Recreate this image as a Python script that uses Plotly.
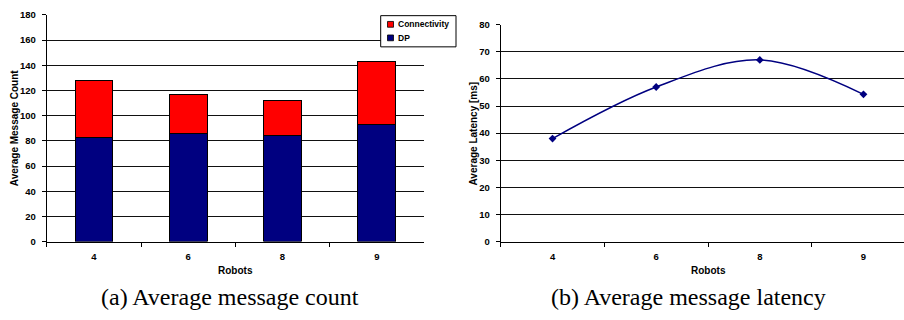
import plotly.graph_objects as go

# Data
robots = ["4", "6", "8", "9"]
dp_msgs = [83, 86, 84, 93]
connectivity_msgs = [45, 31, 28, 50]
latency_ms = [38, 57, 67, 54.3]

count_ticks = [0, 20, 40, 60, 80, 100, 120, 140, 160, 180]
latency_ticks = [0, 10, 20, 30, 40, 50, 60, 70, 80]

W, H = 904, 320
SANS = "Liberation Sans, Arial, sans-serif"
SERIF = "Liberation Serif, Times New Roman, serif"
NAVY = "#000080"
RED = "#FF0000"


def px_x(v):
    return v / W


def px_y(v):
    return 1 - v / H


fig = go.Figure()

# (a) stacked bars
fig.add_trace(go.Bar(x=robots, y=dp_msgs, name="DP", marker=dict(color=NAVY, line=dict(color="black", width=1)),
                     xaxis="x", yaxis="y", showlegend=False))
fig.add_trace(go.Bar(x=robots, y=connectivity_msgs, name="Connectivity",
                     marker=dict(color=RED, line=dict(color="black", width=1)),
                     xaxis="x", yaxis="y", showlegend=False))

# (b) smoothed latency line
fig.add_trace(go.Scatter(x=robots, y=latency_ms, mode="lines+markers",
                         line=dict(color=NAVY, width=1.5, shape="spline", smoothing=1),
                         marker=dict(symbol="diamond", size=6, color=NAVY),
                         xaxis="x2", yaxis="y2", showlegend=False))

tick_font = dict(family=SANS, size=9.5, color="black", weight="bold")
title_font = dict(family=SANS, size=10, color="black", weight="bold")

common_x = dict(type="category", showline=True, linecolor="black", linewidth=1,
                ticks="outside", tickson="boundaries", ticklen=4, tickcolor="black",
                showgrid=False, tickfont=tick_font, ticklabelstandoff=6, fixedrange=True)
common_y = dict(showline=True, linecolor="black", linewidth=1, ticks="outside", ticklen=4,
                tickcolor="black", showgrid=True, gridcolor="#111111", gridwidth=1,
                zeroline=False, tickfont=tick_font, ticklabelstandoff=4, fixedrange=True)

fig.update_layout(
    width=W, height=H,
    margin=dict(l=0, r=0, t=0, b=0),
    paper_bgcolor="white", plot_bgcolor="white",
    barmode="stack", bargap=0.6,
    xaxis=dict(common_x, domain=[px_x(46.7), px_x(424)], anchor="y", range=[-0.5, 3.5]),
    yaxis=dict(common_y, domain=[px_y(244), px_y(9.3)], anchor="x", range=[0, 180],
               tickvals=count_ticks),
    xaxis2=dict(common_x, domain=[px_x(500.7), 1.0], anchor="y2", range=[-0.5, 3.391]),
    yaxis2=dict(common_y, domain=[px_y(244), px_y(19.3)], anchor="x2", range=[0, 80],
                tickvals=latency_ticks),
)

annotations = [
    # axis titles
    dict(text="Average Message Count", x=px_x(14), y=px_y(126.5), textangle=-90, font=title_font),
    dict(text="Robots", x=px_x(235), y=px_y(274), font=title_font),
    dict(text="Average Latency [ms]", x=px_x(473.5), y=px_y(131.5), textangle=-90, font=title_font),
    dict(text="Robots", x=px_x(708), y=px_y(274), font=title_font),
    # captions
    dict(text="(a) Average message count", x=px_x(230), y=px_y(301),
         font=dict(family=SERIF, size=24, color="black")),
    dict(text="(b) Average message latency", x=px_x(688), y=px_y(301),
         font=dict(family=SERIF, size=24, color="black")),
    # legend labels
    dict(text="Connectivity", x=px_x(396), y=px_y(19), xanchor="left",
         font=dict(family=SANS, size=8.5, color="black", weight="bold")),
    dict(text="DP", x=px_x(396), y=px_y(33), xanchor="left",
         font=dict(family=SANS, size=8.5, color="black", weight="bold")),
]
for a in annotations:
    a.update(xref="paper", yref="paper", showarrow=False)
    a.setdefault("xanchor", "center")
    a.setdefault("yanchor", "middle")
fig.update_layout(annotations=annotations)

# legend box with colour swatches
shapes = [
    dict(type="rect", x0=px_x(380.7), x1=px_x(456), y0=px_y(42.3), y1=px_y(10),
         line=dict(color="black", width=1), fillcolor="white"),
    dict(type="rect", x0=px_x(387.5), x1=px_x(393.5), y0=px_y(22), y1=px_y(16),
         line=dict(color="black", width=0.8), fillcolor=RED),
    dict(type="rect", x0=px_x(387.5), x1=px_x(393.5), y0=px_y(36), y1=px_y(30),
         line=dict(color="black", width=0.8), fillcolor=NAVY),
]
for s in shapes:
    s.update(xref="paper", yref="paper")
fig.update_layout(shapes=shapes)

fig.write_html("out.html")
